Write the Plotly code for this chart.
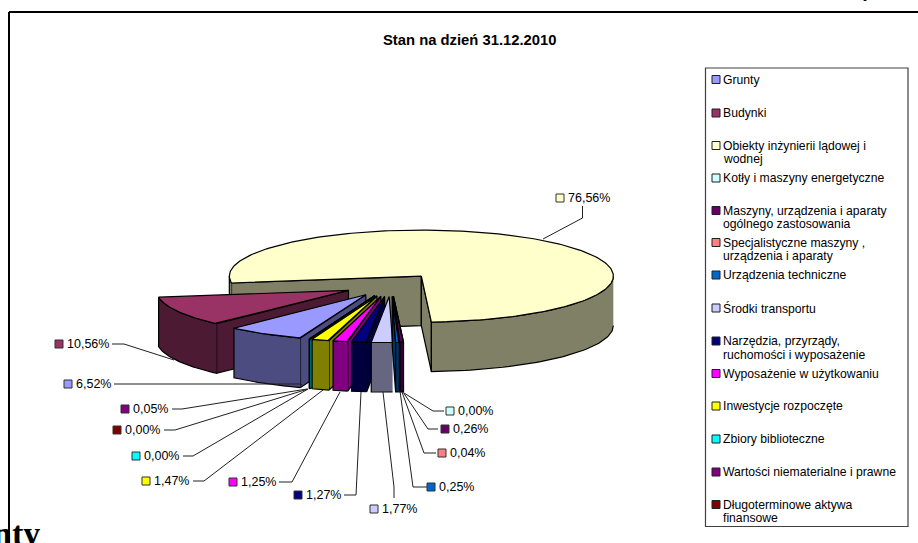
import numpy as np
import plotly.graph_objects as go

# ---------- data ----------
categories = ["Grunty", "Budynki", "Obiekty inżynierii lądowej i<br>wodnej", "Kotły i maszyny energetyczne",
              "Maszyny, urządzenia i aparaty<br>ogólnego zastosowania",
              "Specjalistyczne maszyny ,<br>urządzenia i aparaty", "Urządzenia techniczne", "Środki transportu",
              "Narzędzia, przyrządy,<br>ruchomości i wyposażenie", "Wyposażenie w użytkowaniu",
              "Inwestycje rozpoczęte", "Zbiory biblioteczne", "Wartości niematerialne i prawne",
              "Długoterminowe aktywa<br>finansowe"]
values = [6.52, 10.56, 76.56, 0.00, 0.26, 0.04, 0.25, 1.77, 1.27, 1.25, 1.47, 0.00, 0.05, 0.00]
colors = ["#9999FF", "#993366", "#FFFFCC", "#CCFFFF", "#660066", "#FF8080", "#0066CC", "#CCCCFF",
          "#000080", "#FF00FF", "#FFFF00", "#00FFFF", "#800080", "#800000"]
title = "Stan na dzień 31.12.2010"

# ---------- layout constants (pixels) ----------
W, H = 918, 543
CX, CY, RX, RY, DEPTH, EXPLODE, START = 391, 285, 192, 46, 49.5, 48, 199.9
RATIO = RY / RX
FONT = "Liberation Sans"
paint_order = [2, 1, 0, 13, 12, 11, 10, 9, 8, 7, 3, 4, 5, 6]

# label marker x, y; leader polyline
label_pos = {
    0: (68, 384, [(114, 384), (301, 384), (303, 386)]),
    1: (59, 344, [(112, 344), (124, 344), (174, 360)]),
    2: (560, 198, [(582.5, 206), (582.5, 218), (543, 239)]),
    3: (450, 411, [(444, 411), (433, 411), (404, 393)]),
    4: (445, 429, [(438, 429), (428, 429), (403, 392)]),
    5: (442, 453, [(436, 453), (424, 453), (402, 392)]),
    6: (431, 487, [(427, 487), (413, 487), (400, 391)]),
    7: (374, 509, [(394, 498), (394, 487), (383, 392)]),
    8: (298, 495, [(344, 495), (356, 495), (361, 392)]),
    9: (233, 482, [(279, 482), (292, 482), (340, 392)]),
    10: (146, 481, [(193, 481), (204, 481), (323, 390)]),
    11: (136, 456, [(183, 456), (193, 456), (308, 389)]),
    12: (125, 409, [(172, 409), (182, 409), (307, 389)]),
    13: (117, 430, [(164, 430), (175, 430), (308, 389)]),
}
legend_y = [79.5, 113, 145.5, 178, 210.5, 242.5, 275, 308, 341, 373.5, 406, 439, 472, 504.5]
visible_zero_slices = [11]


def dark(hex_color):
    r, g, b = (int(hex_color[i:i + 2], 16) for i in (1, 3, 5))
    return f"rgb({round(r / 2)},{round(g / 2)},{round(b / 2)})"


fig = go.Figure()


def poly(xs, ys, fill):
    fig.add_trace(go.Scatter(x=list(xs), y=list(ys), mode="lines", fill="toself", fillcolor=fill,
                             line=dict(color="#000000", width=1.2), hoverinfo="skip", showlegend=False))


total = sum(values)
angle = START
spans = []
for v in values:
    spans.append((angle, angle + v / total * 360))
    angle += v / total * 360

for i in paint_order:
    a, b = spans[i]
    m = np.radians((a + b) / 2)
    ox = CX + EXPLODE * np.sin(m)
    oy = CY - EXPLODE * np.cos(m) * RATIO
    px = lambda t: ox + RX * np.sin(np.radians(t))
    py = lambda t: oy - RY * np.cos(np.radians(t))
    wall = dark(colors[i])
    # visible radial faces
    if 180 <= a % 360 < 360:
        poly([ox, px(a), px(a), ox, ox], [oy, py(a), py(a) + DEPTH, oy + DEPTH, oy], wall)
    if 0 < b % 360 <= 180:
        poly([ox, px(b), px(b), ox, ox], [oy, py(b), py(b) + DEPTH, oy + DEPTH, oy], wall)
    # visible outer wall
    for k in (-1, 0, 1, 2):
        lo, hi = max(a, 90 + 360 * k), min(b, 270 + 360 * k)
        if lo < hi:
            t = np.linspace(lo, hi, 60)
            poly(np.r_[px(t), px(t[::-1])], np.r_[py(t), py(t[::-1]) + DEPTH], wall)
    # top
    t = np.linspace(a, b, 240)
    poly(np.r_[ox, px(t), ox], np.r_[oy, py(t), oy], colors[i])
    # a zero-size slice still shows as a thin coloured strip
    if i in visible_zero_slices:
        fig.add_trace(go.Scatter(x=[px(a) + 1, px(a) + 1], y=[py(a) + 1, py(a) + DEPTH - 1], mode="lines",
                                 line=dict(color=wall, width=1.5), hoverinfo="skip", showlegend=False))

# leader lines, value labels
annotations = []
for i, (mx, my, line) in label_pos.items():
    fig.add_trace(go.Scatter(x=[p[0] for p in line], y=[p[1] for p in line], mode="lines",
                             line=dict(color="#202020", width=1), hoverinfo="skip", showlegend=False))
    fig.add_trace(go.Scatter(x=[mx], y=[my], mode="markers", hoverinfo="skip", showlegend=False,
                             marker=dict(symbol="square", size=8, color=colors[i],
                                         line=dict(color="#303030", width=1))))
    annotations.append(dict(x=mx + 6, y=my, xanchor="left", yanchor="middle", showarrow=False,
                            text=f"{values[i]:.2f}%".replace(".", ","),
                            font=dict(family=FONT, size=12.5, color="#000000")))

# legend
for i, ly in enumerate(legend_y):
    fig.add_trace(go.Scatter(x=[716], y=[ly], mode="markers", hoverinfo="skip", showlegend=False,
                             marker=dict(symbol="square", size=8, color=colors[i],
                                         line=dict(color="#202020", width=1))))
    for j, part in enumerate(categories[i].split("<br>")):
        annotations.append(dict(x=723, y=ly + j * 13.5, xanchor="left", yanchor="middle", showarrow=False,
                                borderpad=0, borderwidth=0, text=part,
                                font=dict(family=FONT, size=12.2, color="#000000")))

annotations += [
    dict(x=469.5, y=40, xanchor="center", yanchor="middle", showarrow=False, text=f"<b>{title}</b>",
         font=dict(family=FONT, size=14.8, color="#000000")),
    dict(x=42, y=543, xanchor="right", yanchor="bottom", yshift=-11, showarrow=False, text="<b>nty</b>",
         font=dict(family="Liberation Serif", size=34, color="#000000")),
    dict(x=868, y=3, xanchor="center", yanchor="bottom", yshift=0, showarrow=False, text="<i>y</i>",
         font=dict(family="Liberation Serif", size=18, color="#000000")),
]

shapes = [
    dict(type="rect", x0=705.5, x1=908, y0=68, y1=526.5, line=dict(color="#404040", width=1.2),
         fillcolor="rgba(0,0,0,0)"),
    dict(type="line", x0=9, x1=9, y0=12, y1=543, line=dict(color="#000000", width=2)),
    dict(type="line", x0=9, x1=918, y0=12, y1=12, line=dict(color="#000000", width=2)),
]

fig.update_layout(width=W, height=H, margin=dict(l=0, r=0, t=0, b=0), paper_bgcolor="white",
                  plot_bgcolor="white", showlegend=False, annotations=annotations, shapes=shapes,
                  xaxis=dict(range=[0, W], visible=False, fixedrange=True),
                  yaxis=dict(range=[H, 0], visible=False, fixedrange=True))

fig.write_html("out.html", config=dict(displayModeBar=False),
               post_script="document.body.style.margin='0';document.body.style.overflow='hidden';")
